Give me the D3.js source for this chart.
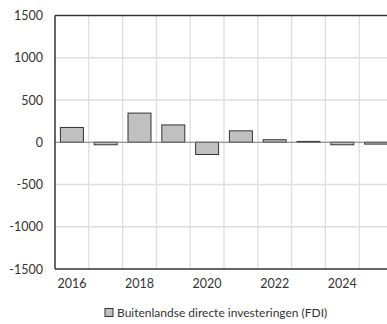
<!DOCTYPE html>
<html><head><meta charset="utf-8">
<script src="https://cdn.jsdelivr.net/npm/d3@7"></script>
<style>body{margin:0;background:#fff;overflow:hidden}svg{display:block}text{font-family:Lato,"Open Sans",sans-serif;fill:#333}</style>
</head><body><svg id="c" width="387" height="324"></svg>
<script>
const years = [2016,2017,2018,2019,2020,2021,2022,2023,2024,2025];
const fdi = [175,-30,345,205,-145,135,30,10,-30,-22];
const yTicks = [-1500,-1000,-500,0,500,1000,1500];
const xLabels = [2016,2018,2020,2022,2024];
const seriesName = "Buitenlandse directe investeringen (FDI)";

const svg = d3.select("#c");
const L = 55, R = 393, T = 15.5, B = 269;
const x = d3.scaleBand().domain(years).range([L, R]).paddingInner(0.32).paddingOuter(0.16);
const xg = d3.scaleBand().domain(years).range([L, R]);
const y = d3.scaleLinear().domain([-1500, 1500]).range([B, T]);

// grid
svg.append("g").selectAll("line.v").data(years.slice(1)).join("line")
  .attr("x1", d => xg(d)).attr("x2", d => xg(d)).attr("y1", T).attr("y2", B)
  .attr("stroke", "#dedede").attr("stroke-width", 1.3);
svg.append("g").selectAll("line.h").data(yTicks.filter(d => d !== 0 && d !== 1500 && d !== -1500)).join("line")
  .attr("x1", L).attr("x2", R).attr("y1", d => y(d)).attr("y2", d => y(d))
  .attr("stroke", "#dedede").attr("stroke-width", 1.3);

// bars
svg.append("g").selectAll("rect").data(years).join("rect")
  .attr("x", d => x(d)).attr("width", x.bandwidth())
  .attr("y", (d,i) => y(Math.max(0, fdi[i])))
  .attr("height", (d,i) => Math.abs(y(fdi[i]) - y(0)))
  .attr("fill", "#c0c0c0").attr("stroke", "#333").attr("stroke-width", 1);

// zero line
svg.append("line").attr("x1", L).attr("x2", R).attr("y1", y(0)).attr("y2", y(0))
  .attr("stroke", "#777").attr("stroke-width", 1);

// frame
svg.append("line").attr("x1", L).attr("x2", R).attr("y1", T).attr("y2", T).attr("stroke", "#333").attr("stroke-width", 1.5);
svg.append("line").attr("x1", L).attr("x2", R).attr("y1", B).attr("y2", B).attr("stroke", "#333").attr("stroke-width", 1.5);
svg.append("line").attr("x1", L).attr("x2", L).attr("y1", T).attr("y2", B).attr("stroke", "#333").attr("stroke-width", 1.5);

// y labels
const yAxis = d3.axisLeft(y).tickValues(yTicks).tickSize(0).tickPadding(12).tickFormat(d => String(d));
const ga = svg.append("g").attr("transform", `translate(${L},0)`).call(yAxis);
ga.select(".domain").remove();
ga.selectAll("text").attr("font-size", 12.5).attr("fill", "#333").style("font-family", "Lato, sans-serif");

// x labels
const xAxis = d3.axisBottom(xg).tickValues(xLabels).tickSize(0).tickPadding(10).tickFormat(d => String(d));
const gx = svg.append("g").attr("transform", `translate(0,${B})`).call(xAxis);
gx.select(".domain").remove();
gx.selectAll("text").attr("font-size", 12.5).attr("fill", "#333").style("font-family", "Lato, sans-serif");

// legend
const lg = svg.append("g");
lg.append("rect").attr("x", 105).attr("y", 308.5).attr("width", 8).attr("height", 8)
  .attr("fill", "#c0c0c0").attr("stroke", "#333").attr("stroke-width", 1);
lg.append("text").attr("x", 117).attr("y", 313).attr("dy", "0.35em").attr("font-size", 12).text(seriesName);
</script></body></html>
